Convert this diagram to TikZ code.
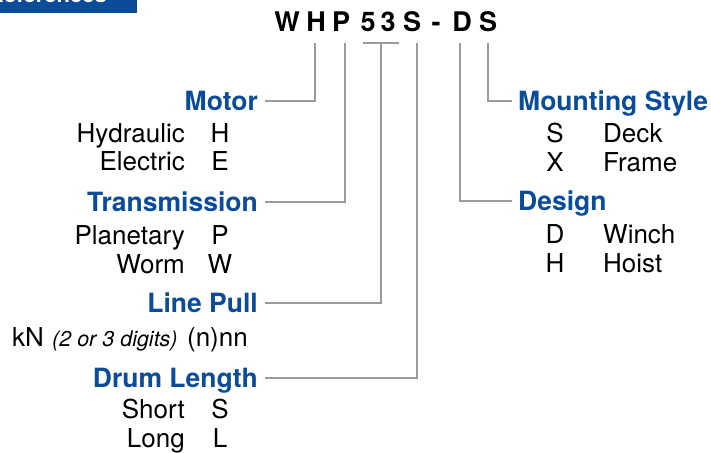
\documentclass[tikz,border=0pt]{standalone}
\usepackage{fontspec}
\setmainfont{TeX Gyre Heros}
\definecolor{hblue}{RGB}{11,76,154}
\definecolor{lgray}{RGB}{155,155,155}
\begin{document}
\begin{tikzpicture}[x=1pt,y=-1pt,
  head/.style={font=\fontsize{26.5}{30}\selectfont\bfseries, text=hblue, inner sep=0pt, text height=19pt, text depth=0pt},
  body/.style={font=\fontsize{26}{30}\selectfont, inner sep=0pt},
  note/.style={font=\fontsize{21.5}{24}\selectfont\itshape, inner sep=0pt},
  code/.style={font=\fontsize{27}{30}\selectfont\bfseries, inner sep=0pt, anchor=base},
  conn/.style={draw=lgray, line width=1.6pt}]
\useasboundingbox (0,0) rectangle (711,452);
% top banner (cut off)
\fill[hblue] (0,0) rectangle (137,13);
\begin{scope}
\clip (0,0) rectangle (137,13);
\node[font=\fontsize{22}{26}\selectfont\bfseries, text=white, inner sep=0pt, anchor=base east] (banner) at (107,3) {References};
\end{scope}
% model code
\node[code] (c1) at (287,32) {W};
\node[code] (c2) at (316,32) {H};
\node[code] (c3) at (341,32) {P};
\node[code] (c4) at (368,32) {5};
\node[code] (c5) at (388,32) {3};
\node[code] (c6) at (412,32) {S};
\node[code] (c7) at (436,32) {-};
\node[code] (c8) at (462,32) {D};
\node[code] (c9) at (488,32) {S};
% headings
\node[head, anchor=east] (motor) at (258,101) {Motor};
\node[head, anchor=east] (trans) at (258,202) {Transmission};
\node[head, anchor=east] (pull) at (258,303) {Line Pull};
\node[head, anchor=east] (drum) at (258,378) {Drum Length};
\node[head, anchor=west] (mount) at (518,101) {Mounting Style};
\node[head, anchor=west] (design) at (518,201) {Design};
% connector tops
\coordinate (tH) at (315,43);
\coordinate (tP) at (345,43);
\coordinate (tLa) at (363,43);
\coordinate (tLb) at (399,43);
\coordinate (tL) at (381,43);
\coordinate (tS) at (417,43);
\coordinate (tD) at (460,43);
\coordinate (tM) at (488,43);
\draw[conn] (tH) |- ([xshift=7pt]motor.east);
\draw[conn] (tP) |- ([xshift=7pt]trans.east);
\draw[conn] (tLa) -- (tLb);
\draw[conn] (tL) |- ([xshift=7pt]pull.east);
\draw[conn] (tS) |- ([xshift=7pt]drum.east);
\draw[conn] (tD) |- ([xshift=-6pt]design.west);
\draw[conn] (tM) |- ([xshift=-6pt]mount.west);
% left options
\node[body, anchor=base east] (hyd) at (185,142) {Hydraulic};
\node[body, anchor=base] (hydc) at (220,142) {H};
\node[body, anchor=base east] (ele) at (185,170) {Electric};
\node[body, anchor=base] (elec) at (220,170) {E};
\node[body, anchor=base east] (pla) at (185,244) {Planetary};
\node[body, anchor=base] (plac) at (220,244) {P};
\node[body, anchor=base east] (wor) at (185,273) {Worm};
\node[body, anchor=base] (worc) at (220,273) {W};
\node[body, anchor=base west] (kn) at (12,346) {kN};
\node[note, anchor=base west] (knn) at (52,346) {(2 or 3 digits)};
\node[body, anchor=base east] (knc) at (248,346) {(n)nn};
\node[body, anchor=base east] (sho) at (185,418) {Short};
\node[body, anchor=base] (shoc) at (220,418) {S};
\node[body, anchor=base east] (lon) at (185,447) {Long};
\node[body, anchor=base] (lonc) at (220,447) {L};
% right options
\node[body, anchor=base] (deckc) at (555,142) {S};
\node[body, anchor=base west] (deck) at (603,142) {Deck};
\node[body, anchor=base] (framec) at (555,171) {X};
\node[body, anchor=base west] (frame) at (603,171) {Frame};
\node[body, anchor=base] (winchc) at (555,243) {D};
\node[body, anchor=base west] (winch) at (603,243) {Winch};
\node[body, anchor=base] (hoistc) at (555,272) {H};
\node[body, anchor=base west] (hoist) at (603,272) {Hoist};
\end{tikzpicture}
\end{document}
